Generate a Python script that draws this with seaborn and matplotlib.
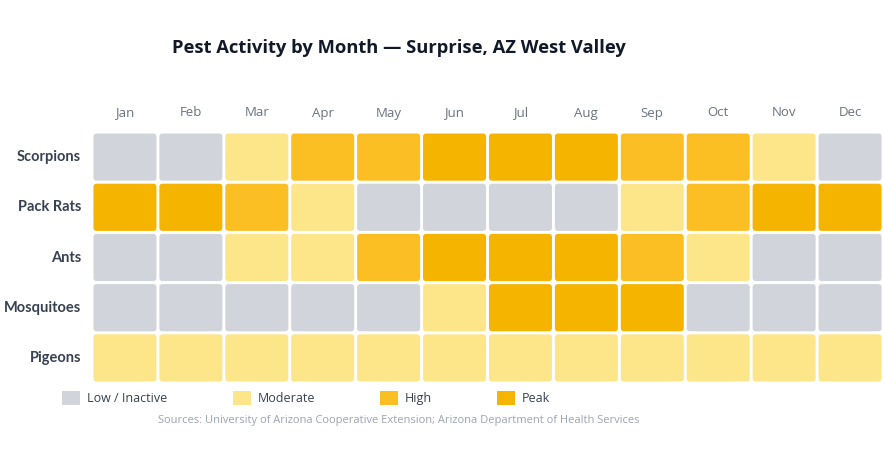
import matplotlib
matplotlib.use("Agg")
import matplotlib.pyplot as plt
from matplotlib.colors import ListedColormap
from matplotlib.patches import Patch, FancyBboxPatch
import seaborn as sns
import pandas as pd

months = ["Jan", "Feb", "Mar", "Apr", "May", "Jun", "Jul", "Aug", "Sep", "Oct", "Nov", "Dec"]
pests = ["Scorpions", "Pack Rats", "Ants", "Mosquitoes", "Pigeons"]
# 0 = Low / Inactive, 1 = Moderate, 2 = High, 3 = Peak
scorpions = [0, 0, 1, 2, 2, 3, 3, 3, 2, 2, 1, 0]
pack_rats = [3, 3, 2, 1, 0, 0, 0, 0, 1, 2, 3, 3]
ants = [0, 0, 1, 1, 2, 3, 3, 3, 2, 1, 0, 0]
mosquitoes = [0, 0, 0, 0, 0, 1, 3, 3, 3, 0, 0, 0]
pigeons = [1, 1, 1, 1, 1, 1, 1, 1, 1, 1, 1, 1]
levels = ["Low / Inactive", "Moderate", "High", "Peak"]
colors = ["#d1d5db", "#fde68a", "#fbbf24", "#f4b400"]

df = pd.DataFrame([scorpions, pack_rats, ants, mosquitoes, pigeons], index=pests, columns=months)

sns.set_style("white")
plt.rcParams["font.family"] = ["Open Sans", "DejaVu Sans"]

fig = plt.figure(figsize=(8.84, 4.66), dpi=100)
ax = fig.add_axes([92 / 884, 1 - 383 / 466, 791 / 884, 251 / 466])

cmap = ListedColormap(colors)
sns.heatmap(df, ax=ax, cmap=cmap, vmin=-0.5, vmax=3.5, cbar=False,
            linewidths=0, square=False)
# hide the flat mesh and redraw cells with rounded corners
ax.collections[0].set_alpha(0)
gx, gy = 0.022, 0.03
for i, pest in enumerate(pests):
    for j, m in enumerate(months):
        v = df.loc[pest, m]
        ax.add_patch(FancyBboxPatch((j + gx, i + gy), 1 - 2 * gx, 1 - 2 * gy,
                                    boxstyle="round,pad=0,rounding_size=0.05",
                                    facecolor=colors[v], edgecolor="none",
                                    mutation_aspect=66 / 50))

ax.xaxis.tick_top()
ax.tick_params(axis="x", length=0, pad=9, labelsize=9.5, labelcolor="#6b7280")
ax.tick_params(axis="y", length=0, pad=8, labelsize=10.5, labelcolor="#374151")
ax.set_xticklabels(months, rotation=0)
ax.set_yticklabels(pests, rotation=0)
for lab in ax.get_yticklabels():
    lab.set_family(["Lato", "DejaVu Sans"])
    lab.set_fontweight("bold")
ax.set_xlabel("")
ax.set_ylabel("")
for s in ax.spines.values():
    s.set_visible(False)

fig.text(399 / 884, 1 - 48 / 466, "Pest Activity by Month \u2014 Surprise, AZ West Valley",
         ha="center", va="center", fontsize=13.2, fontweight="bold", color="#111827")

handles = [Patch(facecolor=c, edgecolor="none") for c in colors]
fig.legend(handles, levels, loc="center left", bbox_to_anchor=(51 / 884, 1 - 398 / 466),
           ncol=4, frameon=False, fontsize=9, labelcolor="#374151",
           handlelength=1.45, handleheight=1.45, handletextpad=0.55, columnspacing=5.2)

fig.text(399 / 884, 1 - 421 / 466,
         "Sources: University of Arizona Cooperative Extension; Arizona Department of Health Services",
         ha="center", va="center", fontsize=8, color="#9ca3af")

fig.savefig("out.png", dpi=100, facecolor="white")
